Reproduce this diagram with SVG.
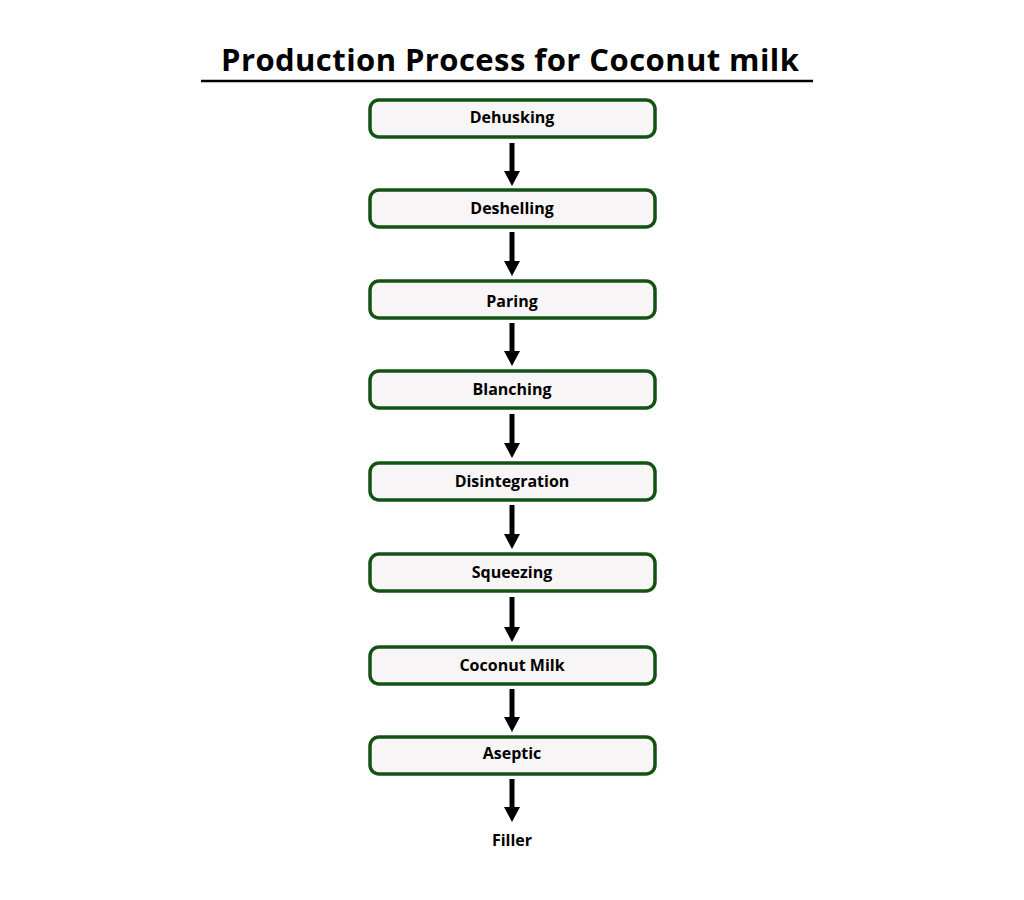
<svg xmlns="http://www.w3.org/2000/svg" width="1024" height="900" viewBox="0 0 1024 900">
<style>
.box{fill:#f7f5f5;stroke:#145214;stroke-width:3.5}
.lbl{font-family:"Open Sans",sans-serif;font-weight:bold;font-size:16px;text-anchor:middle;fill:#000}
.ar{stroke:#000;stroke-width:5}
</style>
<defs><marker id="h" markerWidth="4" markerHeight="4" refX="1" refY="2" orient="auto" markerUnits="strokeWidth" viewBox="0 0 4 4"><path d="M0,0.4 L3,2 L0,3.6Z" fill="#000"/></marker></defs>
<rect width="1024" height="900" fill="#fff"/>
<text x="510" y="71" font-family="Open Sans,sans-serif" font-weight="bold" font-size="31" text-anchor="middle" textLength="578">Production Process for Coconut milk</text>
<line x1="201" y1="81" x2="813" y2="81" stroke="#000" stroke-width="2.5"/>
<g id="n1"><rect class="box" x="370" y="100" width="285" height="37" rx="9"/><text class="lbl" x="512" y="123">Dehusking</text></g>
<g id="n2"><rect class="box" x="370" y="190" width="285" height="37" rx="9"/><text class="lbl" x="512" y="214">Deshelling</text></g>
<g id="n3"><rect class="box" x="370" y="281" width="285" height="37" rx="9"/><text class="lbl" x="512" y="307">Paring</text></g>
<g id="n4"><rect class="box" x="370" y="371" width="285" height="37" rx="9"/><text class="lbl" x="512" y="395">Blanching</text></g>
<g id="n5"><rect class="box" x="370" y="463" width="285" height="37" rx="9"/><text class="lbl" x="512" y="487">Disintegration</text></g>
<g id="n6"><rect class="box" x="370" y="554" width="285" height="37" rx="9"/><text class="lbl" x="512" y="578">Squeezing</text></g>
<g id="n7"><rect class="box" x="370" y="647" width="285" height="37" rx="9"/><text class="lbl" x="512" y="671">Coconut Milk</text></g>
<g id="n8"><rect class="box" x="370" y="737" width="285" height="37" rx="9"/><text class="lbl" x="512" y="759">Aseptic</text></g>
<g id="n9"><text class="lbl" x="512" y="846">Filler</text></g>
<g id="edges">
<line class="ar" x1="512" y1="143" x2="512" y2="176" marker-end="url(#h)"/>
<line class="ar" x1="512" y1="232" x2="512" y2="266" marker-end="url(#h)"/>
<line class="ar" x1="512" y1="323" x2="512" y2="356" marker-end="url(#h)"/>
<line class="ar" x1="512" y1="414" x2="512" y2="448" marker-end="url(#h)"/>
<line class="ar" x1="512" y1="505" x2="512" y2="539" marker-end="url(#h)"/>
<line class="ar" x1="512" y1="597" x2="512" y2="632" marker-end="url(#h)"/>
<line class="ar" x1="512" y1="689" x2="512" y2="722" marker-end="url(#h)"/>
<line class="ar" x1="512" y1="779" x2="512" y2="812" marker-end="url(#h)"/>
</g>
</svg>
